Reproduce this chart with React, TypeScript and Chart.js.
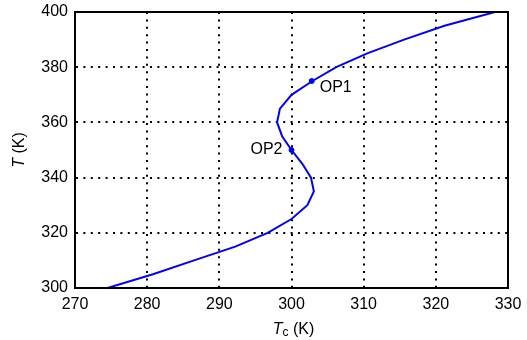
import { useEffect, useRef } from "react";
import { Chart, registerables } from "chart.js";
Chart.register(...registerables);

const tValues = [300, 305, 310, 315, 320, 325, 330, 335, 340, 345, 350, 355, 360, 365, 370, 375, 380, 385, 390, 395, 400];
const tcValues = [274.5, 280.8, 286.5, 292.2, 296.7, 300.0, 302.2, 303.1, 302.7, 301.5, 300.0, 298.7, 298.0, 298.4, 300.0, 302.9, 306.2, 310.5, 315.6, 321.2, 328.2];
const opNames = ["OP1", "OP2"];
const opTc = [302.8, 300.0];
const opT = [375, 350];
const xMin = 270, xMax = 330, xStep = 10;
const yMin = 300, yMax = 400, yStep = 20;

const FONT = "'Liberation Sans', Arial, sans-serif";

const overlay = {
  id: "overlay",
  afterDraw(chart: any) {
    const { ctx, chartArea: a, scales } = chart;
    const xs = scales.x, ys = scales.y;
    ctx.save();
    ctx.setLineDash([]);
    ctx.globalAlpha = 1;
    ctx.globalCompositeOperation = "source-over";
    // frame
    ctx.beginPath();
    ctx.rect(a.left, a.top, a.right - a.left, a.bottom - a.top);
    ctx.lineWidth = 2;
    ctx.strokeStyle = "#000000";
    ctx.stroke();
    // op labels
    ctx.fillStyle = "#000000";
    ctx.font = `16px ${FONT}`;
    ctx.textBaseline = "middle";
    opNames.forEach((n, i) => {
      const px = xs.getPixelForValue(opTc[i]);
      const py = ys.getPixelForValue(opT[i]);
      if (i === 0) {
        ctx.textAlign = "left";
        ctx.fillText(n, px + 8, py + 7);
      } else {
        ctx.textAlign = "right";
        ctx.fillText(n, px - 9, py);
      }
    });
    // x title: Tc (K)
    const cx = (a.left + a.right) / 2 + 2;
    ctx.textAlign = "left";
    ctx.textBaseline = "alphabetic";
    const fMain = `16px ${FONT}`;
    const fIt = `italic 16px ${FONT}`;
    const fSub = `12px ${FONT}`;
    ctx.font = fIt; const w1 = ctx.measureText("T").width;
    ctx.font = fSub; const w2 = ctx.measureText("c").width;
    ctx.font = fMain; const w3 = ctx.measureText(" (K)").width;
    let x0 = cx - (w1 + w2 + w3) / 2;
    const base = 334;
    ctx.font = fIt; ctx.fillText("T", x0, base); x0 += w1;
    ctx.font = fSub; ctx.fillText("c", x0, base + 2); x0 += w2;
    ctx.font = fMain; ctx.fillText(" (K)", x0, base);
    // y title: T (K)
    ctx.save();
    ctx.translate(24, (a.top + a.bottom) / 2);
    ctx.rotate(-Math.PI / 2);
    ctx.font = fIt; const v1 = ctx.measureText("T").width;
    ctx.font = fMain; const v2 = ctx.measureText(" (K)").width;
    let y0 = -(v1 + v2) / 2;
    ctx.font = fIt; ctx.fillText("T", y0, 0); y0 += v1;
    ctx.font = fMain; ctx.fillText(" (K)", y0, 0);
    ctx.restore();
    ctx.restore();
  },
};

const gridColor = (lo: number, hi: number) => (c: any) =>
  c.tick && (c.tick.value === lo || c.tick.value === hi) ? "rgba(0,0,0,0)" : "#000";

export default function App() {
  const ref = useRef<HTMLCanvasElement | null>(null);
  useEffect(() => {
    document.body.style.margin = "0";
    if (!ref.current) return;
    const chart = new Chart(ref.current, {
      type: "scatter",
      data: {
        datasets: [
          {
            data: tcValues.map((x, i) => ({ x, y: tValues[i] })),
            showLine: true,
            borderColor: "#0000ff",
            borderWidth: 2,
            pointRadius: 0,
            tension: 0,
          },
          {
            data: opTc.map((x, i) => ({ x, y: opT[i] })),
            showLine: false,
            backgroundColor: "#0000ff",
            borderColor: "#0000ff",
            pointRadius: 2.5,
          },
        ],
      },
      options: {
        animation: false,
        responsive: false,
        layout: { padding: { top: 12, right: 19, left: 0, bottom: 0 } },
        plugins: { legend: { display: false }, tooltip: { enabled: false } },
        scales: {
          x: {
            type: "linear",
            min: xMin,
            max: xMax,
            ticks: { stepSize: xStep, color: "#000", font: { family: FONT, size: 16 }, padding: 7, maxRotation: 0 },
            grid: { color: gridColor(xMin, xMax), lineWidth: 2, drawTicks: false },
            border: { display: true, color: "#000", width: 2, dash: [2, 5.4] },
            afterFit: (s: any) => { s.height = 52; s.paddingLeft = 0; s.paddingRight = 0; },
          },
          y: {
            type: "linear",
            min: yMin,
            max: yMax,
            ticks: { stepSize: yStep, color: "#000", font: { family: FONT, size: 16 }, padding: 7 },
            grid: { color: gridColor(yMin, yMax), lineWidth: 2, drawTicks: false },
            border: { display: true, color: "#000", width: 2, dash: [2, 5.4] },
            afterFit: (s: any) => { s.width = 75; s.paddingTop = 0; s.paddingBottom = 0; },
          },
        },
      },
      plugins: [overlay],
    });
    return () => chart.destroy();
  }, []);
  return <canvas ref={ref} width={527} height={340} style={{ display: "block" }} />;
}
